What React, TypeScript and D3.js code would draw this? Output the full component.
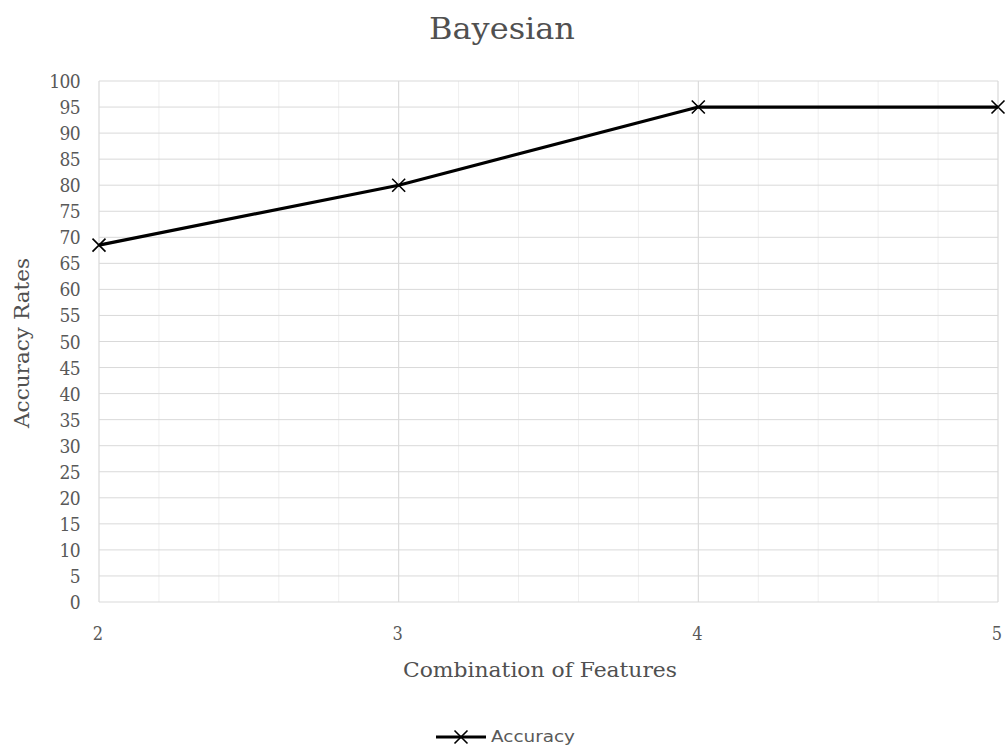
import React from "react";
import * as d3 from "d3";

// Feature-combination sizes and the accuracy reached with each
const featureCounts = [2, 3, 4, 5];
const accuracy = [68.5, 80, 95, 95];
const yTicks = d3.range(0, 101, 5);
const xMajorTicks = [2, 3, 4, 5];
const xMinorTicks = d3.range(2, 5.0001, 0.2);

const W = 1006;
const H = 749;
const margin = { left: 99, right: 8, top: 81, bottom: 147 };

export default function App() {
  const x = d3.scaleLinear().domain([2, 5]).range([margin.left, W - margin.right]);
  const y = d3.scaleLinear().domain([0, 100]).range([H - margin.bottom, margin.top]);
  const pts = featureCounts.map((f, i) => [x(f), y(accuracy[i])] as [number, number]);
  const line = d3.line()(pts) || "";
  const serif = "'DejaVu Serif', 'Liberation Serif', serif";
  const condensed = "'DejaVu Serif Condensed', 'DejaVu Serif', serif";
  const x0 = x.range()[0];
  const x1 = x.range()[1];
  const y0 = y.range()[0];
  const y1 = y.range()[1];
  const cross = (cx: number, cy: number, r: number) =>
    `M${cx - r},${cy - r}L${cx + r},${cy + r}M${cx - r},${cy + r}L${cx + r},${cy - r}`;

  return (
    <svg width={W} height={H} style={{ position: "absolute", left: 0, top: 0, background: "#fff" }}>
      <text x={502} y={39} textAnchor="middle" fontFamily={serif} fontSize={29} fill="#505050" textLength={146} lengthAdjust="spacingAndGlyphs">
        Bayesian
      </text>

      {/* minor vertical gridlines */}
      {xMinorTicks.map((t, i) => (
        <line key={"mn" + i} x1={x(t)} x2={x(t)} y1={y1} y2={y0} stroke="#efefef" strokeWidth={1} />
      ))}
      {/* horizontal gridlines */}
      {yTicks.map((t) => (
        <line key={"h" + t} x1={x0} x2={x1} y1={y(t)} y2={y(t)} stroke="#d9d9d9" strokeWidth={1} />
      ))}
      {/* major vertical gridlines */}
      {xMajorTicks.map((t) => (
        <line key={"mj" + t} x1={x(t)} x2={x(t)} y1={y1} y2={y0} stroke="#d9d9d9" strokeWidth={1} />
      ))}

      {/* y tick labels */}
      {yTicks.map((t) => (
        <text key={"yl" + t} x={80} y={y(t) + 7} textAnchor="end" fontFamily={condensed} fontStretch="condensed" fontSize={19} fill="#595959" letterSpacing={-0.6}>
          {t}
        </text>
      ))}
      {/* x tick labels */}
      {xMajorTicks.map((t) => (
        <text key={"xl" + t} x={x(t) - 1} y={640} textAnchor="middle" fontFamily={condensed} fontStretch="condensed" fontSize={18} fill="#595959">
          {t}
        </text>
      ))}

      <text x={540} y={677} textAnchor="middle" fontFamily={serif} fontSize={20} fill="#505050" textLength={274} lengthAdjust="spacingAndGlyphs">
        Combination of Features
      </text>
      <text transform={`translate(29,343) rotate(-90)`} textAnchor="middle" fontFamily={serif} fontSize={20} fill="#505050" textLength={170} lengthAdjust="spacingAndGlyphs">
        Accuracy Rates
      </text>

      <path d={line} fill="none" stroke="#000" strokeWidth={3.2} strokeLinejoin="round" />
      {pts.map((p, i) => (
        <path key={"m" + i} d={cross(p[0], p[1], 6.5)} stroke="#000" strokeWidth={1.6} fill="none" />
      ))}

      {/* legend */}
      <line x1={436} x2={486} y1={737} y2={737} stroke="#000" strokeWidth={3.2} />
      <path d={cross(461, 737, 6.5)} stroke="#000" strokeWidth={1.6} fill="none" />
      <text x={491} y={742} fontFamily="'DejaVu Sans', 'Open Sans', sans-serif" fontSize={15} fill="#595959" textLength={84} lengthAdjust="spacingAndGlyphs">
        Accuracy
      </text>
    </svg>
  );
}
